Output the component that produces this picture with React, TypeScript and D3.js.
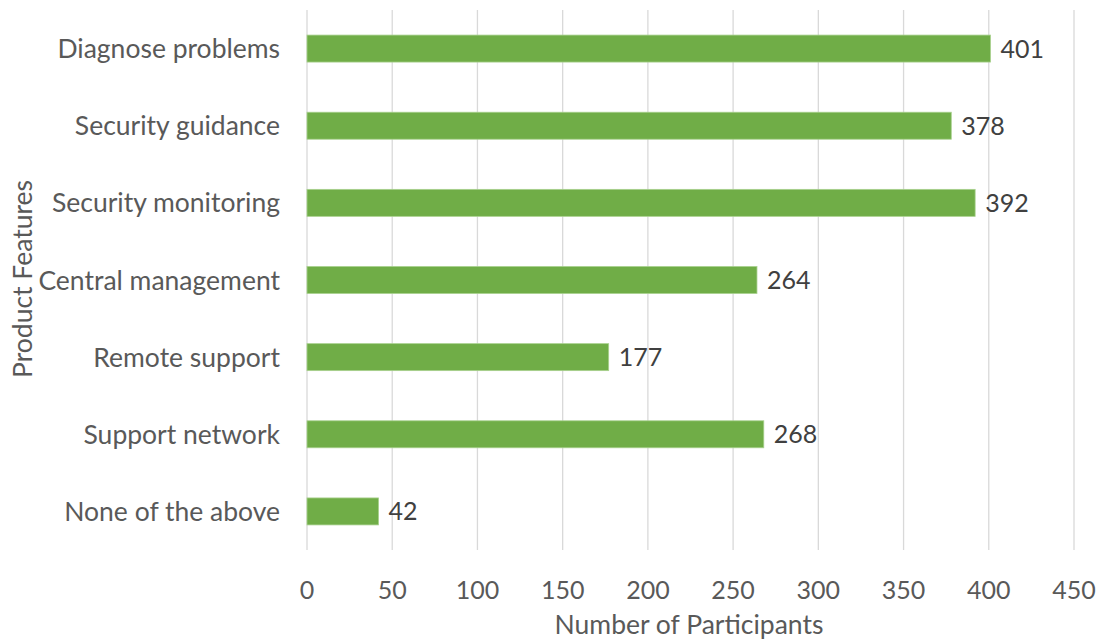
import React from "react";
import * as d3 from "d3";

const categories = [
  "Diagnose problems",
  "Security guidance",
  "Security monitoring",
  "Central management",
  "Remote support",
  "Support network",
  "None of the above",
];
const values = [401, 378, 392, 264, 177, 268, 42];
const xTicks = [0, 50, 100, 150, 200, 250, 300, 350, 400, 450];
const xTitle = "Number of Participants";
const yTitle = "Product Features";

const W = 1108;
const H = 641;
const FONT = "Lato, 'Open Sans', sans-serif";
const TXT = 26.5;
const NUM = 25;

export default function App() {
  const x = d3.scaleLinear().domain([0, 450]).range([307, 1074]);
  const y = d3.scaleBand().domain(categories).range([10, 550]).paddingInner(0.65).paddingOuter(0.325);
  return (
    <svg width={W} height={H} style={{ position: "absolute", left: 0, top: 0 }}>
      <rect width={W} height={H} fill="#fff" />
      {xTicks.map((t) => (
        <line key={t} x1={x(t)} x2={x(t)} y1={10} y2={550} stroke="#d9d9d9" strokeWidth={1.3} />
      ))}
      {categories.map((c, i) => (
        <g key={c}>
          <rect
            x={x(0)}
            y={y(c)}
            width={x(values[i]) - x(0)}
            height={y.bandwidth()}
            fill="#70ad47"
            stroke="#a9d18e"
            strokeWidth={0.8}
          />
          <text
            x={x(values[i]) + 10}
            y={y(c)! + y.bandwidth() / 2}
            dy="0.36em"
            fontFamily={FONT}
            fontSize={NUM}
            fill="#404040"
          >
            {values[i]}
          </text>
          <text
            x={280}
            y={y(c)! + y.bandwidth() / 2}
            dy="0.36em"
            textAnchor="end"
            fontFamily={FONT}
            fontSize={TXT}
            fill="#595959"
          >
            {c}
          </text>
        </g>
      ))}
      {xTicks.map((t) => (
        <text key={t} x={x(t)} y={590} dy="0.36em" textAnchor="middle" fontFamily={FONT} fontSize={NUM} fill="#595959">
          {t}
        </text>
      ))}
      <text x={689} y={624} dy="0.36em" textAnchor="middle" fontFamily={FONT} fontSize={TXT} fill="#595959">
        {xTitle}
      </text>
      <text
        transform={`translate(22,279) rotate(-90)`}
        dy="0.36em"
        textAnchor="middle"
        fontFamily={FONT}
        fontSize={TXT}
        fill="#595959"
      >
        {yTitle}
      </text>
    </svg>
  );
}
